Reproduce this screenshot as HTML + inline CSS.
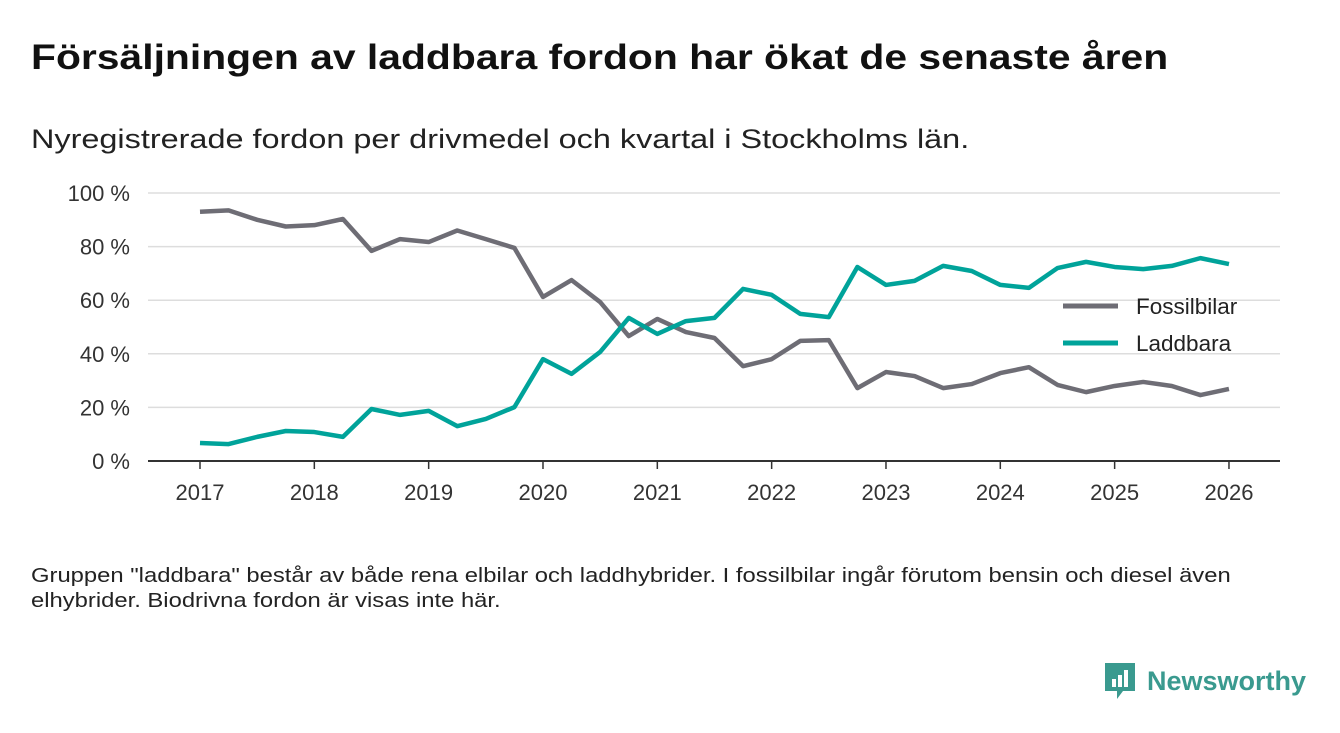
<!DOCTYPE html>
<html><head><meta charset="utf-8"><style>
body{margin:0;width:1340px;height:733px;background:#fff;font-family:"Liberation Sans","DejaVu Sans",sans-serif;overflow:hidden;position:relative}
.t{position:absolute;left:31px;top:38px;font-size:35px;font-weight:bold;color:#111;transform-origin:0 0;transform:scaleX(1.167);white-space:nowrap}
.s{position:absolute;left:31px;top:124px;font-size:27px;color:#222;transform-origin:0 0;transform:scaleX(1.2);white-space:nowrap}
.n{position:absolute;left:31px;top:564px;font-size:20px;color:#222;line-height:25px;white-space:nowrap;transform-origin:0 0;transform:scaleX(1.19)}
.logo{position:absolute;left:1103px;top:661px;display:flex;align-items:center;color:#3a9a8f;font-size:27px;font-weight:bold}
</style></head><body>
<div class="t">Försäljningen av laddbara fordon har ökat de senaste åren</div>
<div class="s">Nyregistrerade fordon per drivmedel och kvartal i Stockholms län.</div>
<svg id="c" width="1340" height="733" style="position:absolute;left:0;top:0"></svg>
<div class="n">Gruppen "laddbara" består av både rena elbilar och laddhybrider. I fossilbilar ingår förutom bensin och diesel även<br>elhybrider. Biodrivna fordon är visas inte här.</div>
<div class="logo"><svg width="34" height="40" style="margin-right:10px"><path d="M2 2h30v28H20l-6 8v-8H2z" fill="#3a9a8f"/><rect x="9" y="18" width="4" height="8" fill="#fff"/><rect x="15" y="14" width="4" height="12" fill="#fff"/><rect x="21" y="9" width="4" height="17" fill="#fff"/></svg>Newsworthy</div>
<script>
const years=[2017,2018,2019,2020,2021,2022,2023,2024,2025,2026];
const yTicks=[0,20,40,60,80,100];
const fossil=[93,93.5,90,87.5,88,90.3,78.4,82.8,81.7,86,82.8,79.5,61.2,67.5,59.3,46.6,53,48.1,45.9,35.4,38,44.8,45.1,27.2,33.2,31.7,27.2,28.7,32.8,35,28.4,25.7,28,29.5,28,24.6,26.9];
const laddbara=[6.7,6.3,9,11.2,10.8,9,19.4,17.2,18.7,13,15.7,20.1,38,32.5,40.7,53.4,47.4,52.2,53.4,64.2,62,54.9,53.7,72.4,65.7,67.2,72.8,70.9,65.7,64.6,72,74.3,72.4,71.6,72.8,75.7,73.5];
const svg=document.getElementById('c');const NS='http://www.w3.org/2000/svg';
const x=v=>200+(v-2017)*114.33, y=v=>461-v*2.68;
function mk(t,a,p){const e=document.createElementNS(NS,t);for(const k in a)e.setAttribute(k,a[k]);(p||svg).appendChild(e);return e;}
yTicks.forEach(v=>{
 if(v>0){const l=mk('line',{x1:148,x2:1280,y1:y(v),y2:y(v),stroke:'#ddd','stroke-width':1.5});
 
 }
 const t=mk('text',{x:130,y:y(v)+8,'text-anchor':'end','font-size':22,fill:'#333'});t.textContent=v+' %';
 
 
});
const ax=mk('line',{x1:148,x2:1280,y1:461,y2:461,stroke:'#333','stroke-width':2});


years.forEach(v=>{
 mk('line',{x1:x(v),x2:x(v),y1:461,y2:469,stroke:'#333','stroke-width':1.5});
 const t=mk('text',{x:x(v),y:500,'text-anchor':'middle','font-size':22,fill:'#333'});t.textContent=v;
 
 
});
function line(d,c,n){const p=mk('polyline',{points:d.map((v,i)=>x(2017+i/4)+','+y(v)).join(' '),fill:'none',stroke:c,'stroke-width':4.5,'stroke-linejoin':'round'});
 
 }
line(fossil,'#6e6d75','fossilbilar-line');
line(laddbara,'#00a39a','laddbara-line');
[['Fossilbilar','#6e6d75',306],['Laddbara','#00a39a',343]].forEach(([n,c,yy])=>{
 const g=mk('g',{});
 
 
 mk('line',{x1:1063,x2:1118,y1:yy,y2:yy,stroke:c,'stroke-width':5},g);
 const t=mk('text',{x:1136,y:yy+8,'font-size':22.5,fill:'#222'},g);t.textContent=n;
});
</script>
</body></html>
